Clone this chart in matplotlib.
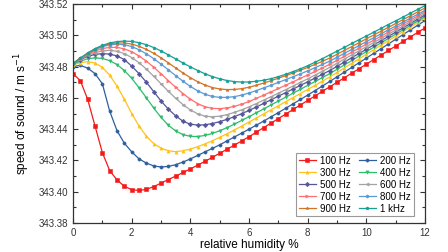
import matplotlib
matplotlib.use("Agg")
import matplotlib.pyplot as plt
import numpy as np

plt.rcParams['font.family'] = ['Liberation Sans', 'DejaVu Sans']

# relative humidity grid (%)
humidity = np.arange(0, 12.01, 0.25)

# speed of sound, given as mm/s above 343.40 m/s
base_speed = 343.40
red = [75.5, 71, 59, 42, 25, 13.5, 7.5, 3.5, 1.3, 0.8, 1.5, 3.3, 5.5, 7.8, 10, 12.3,
       14.6, 17, 19.5, 22, 24.6, 27.2, 29.8, 32.5, 35.2, 38.1, 41, 43.9, 46.8, 49.7, 52.6, 55.5,
       58.4, 61.3, 64.2, 67.1, 70, 72.9, 75.8, 78.7, 81.6, 84.5, 87.4, 90.3, 93.2, 96.1, 99, 101.9, 104.8]
blue = [80, 80.8, 79, 75.5, 69, 51.5, 39, 31, 25.5, 21, 18.3, 16.5, 15.8, 16.2, 17.3, 19,
        21, 23.2, 25.5, 27.7, 30, 32.5, 35, 37.5, 40, 42.6, 45.2, 47.9, 50.6, 53.4, 56.2, 59,
        61.8, 64.7, 67.6, 70.5, 73.5, 76.5, 79.5, 82.5, 85.5, 88.5, 91.5, 94.5, 97.5, 100.5, 103.5, 106.5, 109.5]
yellow = [81, 82.5, 83.2, 82.3, 79.5, 74.5, 67.5, 59, 50, 42, 35.5, 30.8, 27.8, 26.2, 25.6, 26.2,
          27.3, 28.8, 30.6, 32.6, 34.8, 37.1, 39.5, 42, 44.6, 47.2, 49.8, 52.4, 55, 57.6, 60.2, 62.8,
          65.4, 68, 70.7, 73.4, 76.3, 79.2, 82.1, 85, 87.9, 90.8, 93.7, 96.6, 99.5, 102.4, 105.3, 108.2, 111.1]
green = [81.5, 83.5, 85, 85.6, 85.2, 83.8, 81.3, 77.5, 72.5, 66.5, 60, 53.5, 47.5, 42.5, 38.8, 36.5,
         35.4, 35.3, 36, 37.3, 39, 41, 43.2, 45.6, 48, 50.5, 53, 55.5, 58, 60.5, 63, 65.5,
         68, 70.5, 73, 75.5, 78.3, 81.1, 83.9, 86.8, 89.6, 92.4, 95.2, 98, 100.8, 103.6, 106.4, 109.2, 112]
purple = [82, 84.5, 86.5, 87.8, 88.3, 88, 86.8, 84.5, 80.3, 75.5, 70, 64, 58, 52.8, 48.5, 45,
          43.2, 42.6, 42.8, 43.6, 44.8, 46.3, 48, 49.9, 52, 54.2, 56.5, 58.8, 61.1, 63.4, 65.7, 68,
          70.3, 72.7, 75.1, 77.5, 80.2, 82.9, 85.7, 88.4, 91.1, 93.9, 96.6, 99.3, 102.1, 104.8, 107.5, 110.3, 113]
grey = [82, 84.8, 87.2, 88.9, 90, 90.4, 89.8, 88.3, 85.8, 82.5, 78.4, 73.8, 69, 64.2, 59.7, 55.7,
        52.3, 49.8, 48.3, 47.9, 48.3, 49.3, 50.7, 52.4, 54.3, 56.4, 58.6, 60.8, 63, 65.3, 67.6, 69.9,
        72.2, 74.6, 77, 79.5, 82.2, 84.8, 87.5, 90.1, 92.8, 95.4, 98.1, 100.7, 103.4, 106, 108.7, 111.3, 114]
pink = [82, 85, 87.8, 90, 91.5, 92.3, 92.3, 91.3, 89.5, 86.8, 83.5, 79.6, 75.4, 71, 66.7, 62.7,
        59.2, 56.3, 54.3, 53.3, 53.1, 53.6, 54.6, 56, 57.7, 59.7, 61.8, 63.9, 66, 68.1, 70.3, 72.5,
        74.7, 76.9, 79.2, 81.5, 84.1, 86.6, 89.2, 91.8, 94.4, 96.9, 99.5, 102.1, 104.7, 107.3, 109.8, 112.4, 115]
lightblue = [82, 85.2, 88.2, 90.8, 92.7, 93.9, 94.3, 94, 92.8, 90.8, 88.2, 85.1, 81.6, 77.9, 74.2, 70.6,
             67.3, 64.5, 62.3, 60.9, 60.3, 60.3, 60.8, 61.8, 63.1, 64.7, 66.4, 68.1, 69.9, 71.7, 73.5, 75.4,
             77.3, 79.3, 81.4, 83.5, 86, 88.5, 91, 93.5, 96, 98.5, 101, 103.5, 106, 108.5, 111, 113.5, 116]
orange = [82, 85.4, 88.5, 91.2, 93.2, 94.5, 95.1, 95.1, 94.4, 93, 91, 88.5, 85.6, 82.4, 79.1, 75.9,
          72.9, 70.3, 68.2, 66.6, 65.7, 65.3, 65.4, 65.9, 66.8, 68.1, 69.5, 71, 72.6, 74.2, 75.9, 77.7,
          79.5, 81.4, 83.4, 85.5, 87.9, 90.4, 92.8, 95.3, 97.8, 100.2, 102.7, 105.1, 107.6, 110.1, 112.5, 115, 117.5]
teal = [82, 85.5, 88.7, 91.5, 93.6, 95.1, 96, 96.3, 96.1, 95.3, 94, 92.2, 90, 87.5, 84.9, 82.3,
        79.8, 77.5, 75.4, 73.6, 72.2, 71.1, 70.4, 70.1, 70.2, 70.6, 71.3, 72.3, 73.6, 75.1, 76.8, 78.6,
        80.6, 82.8, 85.1, 87.5, 89.9, 92.3, 94.8, 97.2, 99.6, 102, 104.5, 106.9, 109.3, 111.7, 114.2, 116.6, 119]

labels = ["100 Hz", "200 Hz", "300 Hz", "400 Hz", "500 Hz",
          "600 Hz", "700 Hz", "800 Hz", "900 Hz", "1 kHz"]
series = [red, blue, yellow, green, purple, grey, pink, lightblue, orange, teal]
colors = ['#f51a1a', '#2e5f9e', '#ffc21a', '#2ebd6b', '#555599',
          '#a3a3a3', '#ff7070', '#5b9bd5', '#d27325', '#17a095']
markers = ['s', 'o', '^', 'v', 'D', '<', '>', 'h', '*', 'p']

fig = plt.figure(figsize=(4.48, 2.52), dpi=100)
ax = fig.add_axes([0.163, 0.115, 0.786, 0.869])

handles = []
for vals, lab, col, mk in zip(series, labels, colors, markers):
    speed = base_speed + np.array(vals) / 1000.0
    h, = ax.plot(humidity, speed, color=col, marker=mk, markersize=2.3,
                 linewidth=0.9, markeredgewidth=0.4, label=lab)
    handles.append(h)

ax.set_xlim(0, 12)
ax.set_ylim(343.38, 343.52)
ax.set_xticks(np.arange(0, 13, 2))
ax.set_xticks(np.arange(1, 12, 2), minor=True)
ax.set_yticks(np.arange(343.38, 343.521, 0.02))
ax.set_yticks(np.arange(343.39, 343.52, 0.02), minor=True)
ax.set_yticklabels([f"{v:.2f}" for v in np.arange(343.38, 343.521, 0.02)])

ax.tick_params(which='both', direction='in', top=True, right=True,
               labelsize=7, colors='#333333', width=0.8)
ax.tick_params(which='major', length=3.5)
ax.tick_params(which='minor', length=2)
for sp in ax.spines.values():
    sp.set_color('#333333')
    sp.set_linewidth(0.9)

ax.set_xlabel("relative humidity %", fontsize=8.5, labelpad=1)
ax.set_ylabel("speed of sound / m s$^{-1}$", fontsize=8.5, labelpad=5)

# legend filled row by row
order = [0, 2, 4, 6, 8, 1, 3, 5, 7, 9]
leg = ax.legend([handles[i] for i in order], [labels[i] for i in order],
                ncol=2, loc='lower right', bbox_to_anchor=(0.968, 0.03),
                borderaxespad=0, fontsize=7, fancybox=False, framealpha=1,
                edgecolor='#999999', handlelength=1.8, handletextpad=0.4,
                columnspacing=0.8, labelspacing=0.2, borderpad=0.3)
leg.get_frame().set_linewidth(0.8)

fig.savefig("out.png", dpi=100)
